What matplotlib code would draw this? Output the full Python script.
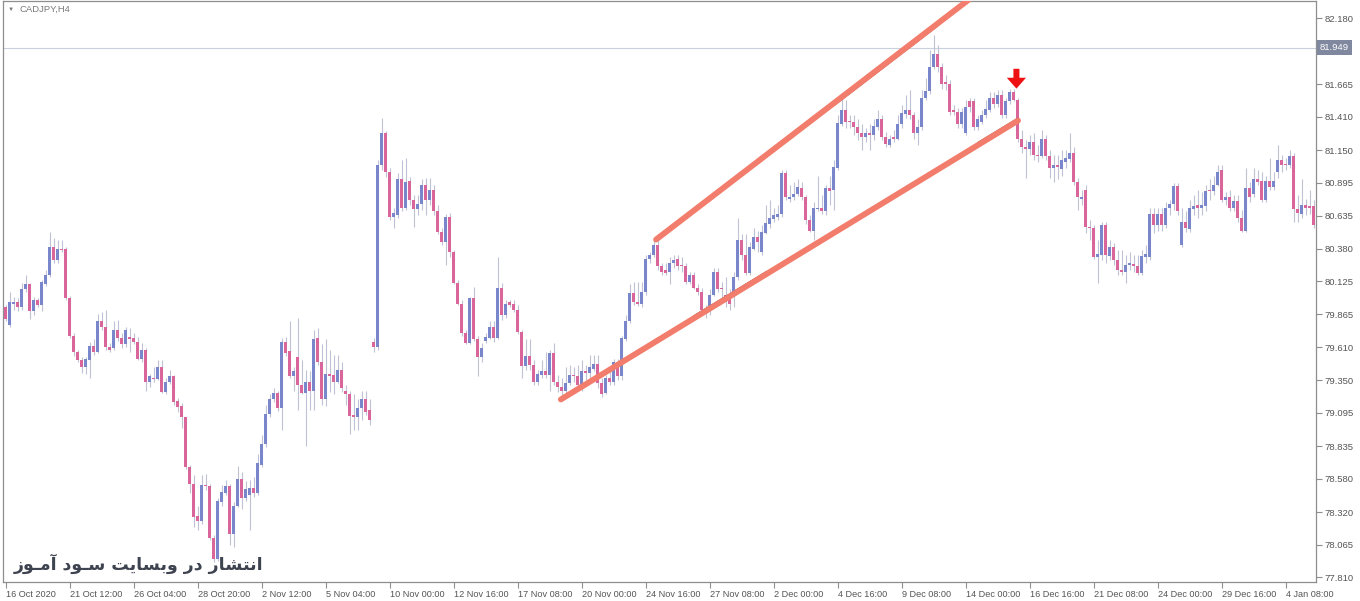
import numpy as np
import matplotlib
matplotlib.use('Agg')
import matplotlib.pyplot as plt
from matplotlib.transforms import blended_transform_factory

# CADJPY H4 candles (one entry per bar, left to right)
opens = [
    79.92, 79.78, 79.95, 79.96, 79.92, 80.06, 80.10, 79.89, 79.98, 79.94,
    80.10, 80.17, 80.39, 80.29, 80.38, 80.38, 79.99, 79.70, 79.57, 79.51,
    79.45, 79.51, 79.62, 79.57, 79.81, 79.77, 79.61, 79.60, 79.74, 79.68,
    79.63, 79.69, 79.68, 79.65, 79.52, 79.59, 79.34, 79.37, 79.36, 79.45,
    79.26, 79.34, 79.38, 79.19, 79.15, 79.06, 78.67, 78.54, 78.29, 78.25,
    78.53, 78.52, 78.12, 77.95, 78.40, 78.47, 78.52, 78.15, 78.37, 78.58,
    78.43, 78.45, 78.51, 78.47, 78.69, 78.85, 79.09, 79.20, 79.25, 79.13,
    79.65, 79.58, 79.38, 79.53, 79.31, 79.25, 79.34, 79.27, 79.68, 79.49,
    79.20, 79.40, 79.39, 79.34, 79.43, 79.27, 79.24, 79.08, 79.06, 79.13,
    79.20, 79.12, 79.65, 79.61, 81.03, 81.28, 80.98, 80.63, 80.64, 80.92,
    80.70, 80.91, 80.76, 80.69, 80.73, 80.88, 80.76, 80.84, 80.67, 80.51,
    80.43, 80.63, 80.35, 80.11, 79.95, 79.72, 79.64, 79.99, 79.67, 79.53,
    79.66, 79.68, 79.77, 79.68, 80.07, 79.86, 79.96, 79.95, 79.90, 79.73,
    79.46, 79.54, 79.47, 79.34, 79.39, 79.42, 79.39, 79.56, 79.34, 79.30,
    79.27, 79.33, 79.39, 79.38, 79.31, 79.42, 79.41, 79.44, 79.48, 79.33,
    79.25, 79.37, 79.34, 79.49, 79.38, 79.67, 79.81, 80.03, 79.96, 79.95,
    80.04, 80.30, 80.33, 80.41, 80.24, 80.21, 80.20, 80.27, 80.30, 80.25,
    80.24, 80.12, 80.17, 80.07, 80.04, 79.87, 79.89, 80.02, 80.20, 80.07,
    80.02, 80.00, 80.00, 80.16, 80.45, 80.33, 80.19, 80.38, 80.47, 80.35,
    80.50, 80.57, 80.61, 80.63, 80.65, 80.97, 80.77, 80.78, 80.81, 80.85,
    80.78, 80.60, 80.52, 80.69, 80.70, 80.67, 80.85, 80.84, 81.01, 81.35,
    81.46, 81.38, 81.37, 81.33, 81.28, 81.25, 81.28, 81.27, 81.33, 81.39,
    81.25, 81.19, 81.25, 81.24, 81.35, 81.43, 81.46, 81.42, 81.28, 81.33,
    81.56, 81.61, 81.80, 81.90, 81.80, 81.68, 81.67, 81.46, 81.45, 81.35,
    81.28, 81.53, 81.53, 81.33, 81.37, 81.42, 81.46, 81.56, 81.51, 81.58,
    81.42, 81.53, 81.60, 81.54, 81.24, 81.17, 81.16, 81.21, 81.11, 81.10,
    81.24, 81.10, 81.01, 81.03, 81.00, 81.06, 81.08, 81.13, 80.90, 80.77,
    80.84, 80.55, 80.54, 80.31, 80.33, 80.56, 80.32, 80.39, 80.29, 80.21,
    80.20, 80.25, 80.26, 80.24, 80.19, 80.31, 80.31, 80.65, 80.56, 80.65,
    80.56, 80.70, 80.73, 80.87, 80.41, 80.59, 80.53, 80.69, 80.72, 80.70,
    80.71, 80.84, 80.83, 80.88, 80.99, 80.76, 80.78, 80.70, 80.75, 80.62,
    80.52, 80.85, 80.81, 80.92, 80.91, 80.76, 80.91, 80.86, 80.98, 81.07,
    81.04, 81.03, 81.10, 80.69, 80.65, 80.72, 80.71, 80.71,
]
highs = [
    79.94, 80.04, 80.00, 79.99, 80.11, 80.17, 80.11, 80.00, 79.99, 80.13,
    80.21, 80.51, 80.46, 80.45, 80.45, 80.39, 80.01, 79.72, 79.59, 79.53,
    79.53, 79.65, 79.67, 79.87, 79.88, 79.90, 79.64, 79.81, 79.82, 79.72,
    79.77, 79.76, 79.72, 79.69, 79.64, 79.60, 79.40, 79.45, 79.51, 79.51,
    79.37, 79.43, 79.39, 79.21, 79.17, 79.06, 78.69, 78.61, 78.37, 78.61,
    78.62, 78.54, 78.14, 78.43, 78.53, 78.57, 78.54, 78.40, 78.68, 78.63,
    78.56, 78.57, 78.59, 78.77, 78.92, 79.16, 79.24, 79.29, 79.27, 79.68,
    79.69, 79.81, 79.45, 79.84, 79.51, 79.43, 79.42, 79.74, 79.76, 79.63,
    79.67, 79.59, 79.55, 79.55, 79.49, 79.31, 79.27, 79.24, 79.20, 79.27,
    79.27, 79.20, 79.68, 81.07, 81.40, 81.30, 81.01, 80.70, 80.97, 81.07,
    81.09, 80.94, 80.80, 80.80, 80.92, 80.93, 80.93, 80.88, 80.72, 80.54,
    80.65, 80.66, 80.37, 80.13, 79.98, 79.74, 80.00, 80.08, 79.70, 79.64,
    79.72, 79.81, 79.81, 80.31, 80.11, 79.98, 79.98, 79.98, 79.94, 79.74,
    79.67, 79.67, 79.51, 79.43, 79.51, 79.57, 79.59, 79.64, 79.39, 79.37,
    79.45, 79.47, 79.45, 79.47, 79.51, 79.47, 79.55, 79.55, 79.55, 79.37,
    79.39, 79.42, 79.52, 79.52, 79.70, 79.86, 80.10, 80.12, 80.12, 80.12,
    80.33, 80.35, 80.45, 80.45, 80.27, 80.27, 80.31, 80.33, 80.33, 80.31,
    80.27, 80.20, 80.20, 80.10, 80.07, 79.94, 80.06, 80.23, 80.23, 80.12,
    80.16, 80.06, 80.20, 80.62, 80.49, 80.49, 80.43, 80.54, 80.52, 80.56,
    80.72, 80.76, 80.70, 80.72, 80.99, 80.99, 80.88, 80.90, 80.92, 80.90,
    80.80, 80.64, 80.74, 80.95, 80.80, 80.88, 80.95, 81.07, 81.42, 81.56,
    81.54, 81.42, 81.42, 81.39, 81.35, 81.32, 81.35, 81.39, 81.46, 81.42,
    81.29, 81.27, 81.31, 81.42, 81.50, 81.58, 81.62, 81.45, 81.39, 81.62,
    81.71, 81.93, 82.05, 81.97, 81.83, 81.74, 81.70, 81.50, 81.48, 81.48,
    81.54, 81.56, 81.56, 81.42, 81.46, 81.54, 81.60, 81.60, 81.62, 81.62,
    81.56, 81.63, 81.63, 81.56, 81.31, 81.23, 81.27, 81.28, 81.19, 81.31,
    81.27, 81.15, 81.11, 81.11, 81.15, 81.15, 81.28, 81.17, 80.93, 80.84,
    80.88, 80.60, 80.56, 80.45, 80.59, 80.59, 80.45, 80.42, 80.37, 80.37,
    80.33, 80.35, 80.33, 80.33, 80.37, 80.41, 80.70, 80.70, 80.70, 80.70,
    80.74, 80.76, 80.89, 80.89, 80.70, 80.67, 80.76, 80.80, 80.84, 80.82,
    80.88, 80.92, 80.95, 81.03, 81.03, 80.82, 80.84, 80.80, 80.80, 80.68,
    81.01, 80.90, 81.01, 80.99, 80.98, 80.95, 81.09, 80.98, 81.19, 81.11,
    81.09, 81.15, 81.13, 80.80, 80.92, 80.77, 80.84, 80.76,
]
lows = [
    79.81, 79.77, 79.90, 79.89, 79.90, 80.04, 79.83, 79.86, 79.92, 79.89,
    80.09, 80.16, 80.27, 80.27, 80.35, 79.98, 79.68, 79.54, 79.49, 79.41,
    79.40, 79.37, 79.55, 79.56, 79.74, 79.59, 79.57, 79.59, 79.66, 79.60,
    79.61, 79.57, 79.63, 79.51, 79.49, 79.27, 79.30, 79.34, 79.35, 79.25,
    79.24, 79.32, 79.16, 79.10, 78.98, 78.66, 78.47, 78.20, 78.18, 78.23,
    78.49, 78.10, 77.93, 77.94, 78.37, 78.45, 78.06, 78.05, 78.36, 78.34,
    78.41, 78.18, 78.44, 78.45, 78.67, 78.83, 79.06, 79.18, 79.11, 78.96,
    79.54, 79.37, 79.27, 79.12, 79.24, 78.84, 79.12, 79.12, 79.47, 79.16,
    79.15, 79.26, 79.24, 79.33, 79.26, 79.16, 78.93, 78.96, 78.96, 79.04,
    79.08, 79.00, 79.57, 79.59, 80.99, 80.94, 80.60, 80.54, 80.62, 80.67,
    80.68, 80.72, 80.55, 80.64, 80.68, 80.64, 80.72, 80.64, 80.49, 80.41,
    80.25, 80.31, 80.10, 79.94, 79.70, 79.63, 79.63, 79.66, 79.38, 79.49,
    79.64, 79.67, 79.65, 79.67, 79.82, 79.84, 79.92, 79.88, 79.71, 79.37,
    79.43, 79.43, 79.31, 79.31, 79.37, 79.37, 79.27, 79.31, 79.26, 79.21,
    79.25, 79.31, 79.34, 79.27, 79.27, 79.35, 79.37, 79.42, 79.29, 79.22,
    79.24, 79.31, 79.31, 79.35, 79.35, 79.66, 79.80, 79.94, 79.93, 79.92,
    80.02, 80.27, 80.31, 80.21, 80.17, 80.17, 80.10, 80.23, 80.21, 80.20,
    80.10, 80.10, 80.06, 80.02, 79.88, 79.84, 79.86, 80.01, 80.04, 79.98,
    79.92, 79.90, 79.92, 80.13, 80.29, 80.17, 80.17, 80.37, 80.35, 80.33,
    80.49, 80.54, 80.59, 80.60, 80.63, 80.76, 80.74, 80.76, 80.79, 80.76,
    80.57, 80.51, 80.45, 80.67, 80.65, 80.64, 80.72, 80.68, 80.99, 81.34,
    81.32, 81.32, 81.27, 81.23, 81.15, 81.21, 81.15, 81.23, 81.31, 81.23,
    81.17, 81.17, 81.21, 81.23, 81.32, 81.40, 81.39, 81.24, 81.19, 81.31,
    81.54, 81.59, 81.78, 81.76, 81.63, 81.62, 81.42, 81.42, 81.32, 81.32,
    81.27, 81.45, 81.31, 81.31, 81.35, 81.40, 81.45, 81.48, 81.49, 81.40,
    81.40, 81.51, 81.53, 81.21, 81.13, 80.93, 81.11, 81.07, 81.06, 81.09,
    81.07, 80.93, 80.90, 80.92, 80.95, 81.01, 81.06, 80.88, 80.68, 80.72,
    80.50, 80.45, 80.30, 80.11, 80.29, 80.27, 80.29, 80.25, 80.17, 80.17,
    80.11, 80.21, 80.20, 80.17, 80.17, 80.27, 80.29, 80.50, 80.52, 80.52,
    80.54, 80.64, 80.68, 80.64, 80.39, 80.51, 80.51, 80.64, 80.62, 80.64,
    80.67, 80.76, 80.80, 80.87, 80.74, 80.72, 80.67, 80.67, 80.59, 80.51,
    80.51, 80.74, 80.78, 80.88, 80.74, 80.74, 80.84, 80.84, 80.93, 80.98,
    80.99, 81.01, 80.59, 80.59, 80.62, 80.64, 80.65, 80.54,
]
closes = [
    79.83, 79.96, 79.96, 79.92, 80.06, 80.10, 79.89, 79.98, 79.94, 80.12,
    80.17, 80.39, 80.29, 80.38, 80.37, 79.99, 79.70, 79.57, 79.51, 79.45,
    79.52, 79.62, 79.57, 79.81, 79.77, 79.61, 79.59, 79.74, 79.68, 79.63,
    79.74, 79.67, 79.65, 79.52, 79.59, 79.34, 79.38, 79.36, 79.45, 79.26,
    79.34, 79.38, 79.18, 79.14, 79.06, 78.67, 78.54, 78.28, 78.25, 78.53,
    78.52, 78.12, 77.95, 78.41, 78.48, 78.52, 78.15, 78.37, 78.58, 78.43,
    78.50, 78.51, 78.47, 78.70, 78.85, 79.09, 79.20, 79.25, 79.13, 79.65,
    79.56, 79.38, 79.42, 79.31, 79.25, 79.34, 79.27, 79.67, 79.49, 79.20,
    79.40, 79.38, 79.34, 79.43, 79.29, 79.24, 79.07, 79.06, 79.13, 79.20,
    79.10, 79.04, 79.61, 81.03, 81.28, 80.98, 80.63, 80.66, 80.92, 80.70,
    80.90, 80.76, 80.69, 80.73, 80.88, 80.76, 80.84, 80.67, 80.51, 80.43,
    80.63, 80.35, 80.11, 79.95, 79.72, 79.64, 79.99, 79.67, 79.53, 79.60,
    79.69, 79.77, 79.68, 80.07, 79.86, 79.95, 79.94, 79.90, 79.73, 79.46,
    79.54, 79.47, 79.34, 79.40, 79.42, 79.39, 79.56, 79.34, 79.30, 79.27,
    79.33, 79.39, 79.38, 79.31, 79.42, 79.41, 79.45, 79.48, 79.33, 79.24,
    79.37, 79.34, 79.49, 79.38, 79.68, 79.81, 80.03, 79.96, 79.95, 80.04,
    80.30, 80.33, 80.41, 80.24, 80.20, 80.19, 80.27, 80.29, 80.24, 80.24,
    80.12, 80.17, 80.07, 80.04, 79.90, 79.90, 80.02, 80.20, 80.06, 80.06,
    79.96, 79.95, 80.16, 80.45, 80.33, 80.19, 80.39, 80.47, 80.43, 80.51,
    80.58, 80.62, 80.64, 80.65, 80.97, 80.78, 80.78, 80.81, 80.86, 80.78,
    80.60, 80.52, 80.70, 80.70, 80.67, 80.85, 80.83, 81.02, 81.36, 81.46,
    81.37, 81.37, 81.33, 81.28, 81.25, 81.28, 81.27, 81.34, 81.39, 81.25,
    81.20, 81.24, 81.24, 81.35, 81.44, 81.46, 81.42, 81.28, 81.33, 81.56,
    81.61, 81.80, 81.90, 81.80, 81.67, 81.67, 81.45, 81.45, 81.35, 81.45,
    81.49, 81.49, 81.33, 81.39, 81.42, 81.47, 81.56, 81.51, 81.58, 81.42,
    81.53, 81.60, 81.54, 81.24, 81.17, 81.16, 81.21, 81.11, 81.10, 81.24,
    81.10, 81.01, 81.03, 81.02, 81.07, 81.09, 81.13, 80.90, 80.78, 80.78,
    80.55, 80.54, 80.31, 80.34, 80.56, 80.33, 80.39, 80.29, 80.21, 80.20,
    80.25, 80.27, 80.24, 80.19, 80.32, 80.34, 80.65, 80.56, 80.65, 80.56,
    80.70, 80.73, 80.87, 80.67, 80.59, 80.54, 80.70, 80.71, 80.70, 80.72,
    80.83, 80.83, 80.88, 80.98, 80.76, 80.78, 80.70, 80.75, 80.62, 80.52,
    80.85, 80.78, 80.92, 80.90, 80.76, 80.91, 80.86, 80.91, 81.07, 81.03,
    81.03, 81.10, 80.69, 80.66, 80.72, 80.70, 80.70, 80.56,
]

# one date label every 16 bars
time_labels = [
    '16 Oct 2020', '21 Oct 12:00', '26 Oct 04:00', '28 Oct 20:00', '2 Nov 12:00',
    '5 Nov 04:00', '10 Nov 00:00', '12 Nov 16:00', '17 Nov 08:00', '20 Nov 00:00',
    '24 Nov 16:00', '27 Nov 08:00', '2 Dec 00:00', '4 Dec 16:00', '9 Dec 08:00',
    '14 Dec 00:00', '16 Dec 16:00', '21 Dec 08:00', '24 Dec 00:00', '29 Dec 16:00',
    '4 Jan 08:00',
]
price_ticks = [82.180, 81.665, 81.410, 81.150, 80.895, 80.635, 80.380, 80.125,
               79.865, 79.610, 79.350, 79.095, 78.835, 78.580, 78.320, 78.065, 77.810]
bid_price = 81.949
symbol = 'CADJPY,H4'
watermark = 'انتشار در وبسایت سـود آمـوز'

# hand-drawn channel (bar index, price)
upper_channel = ([162.6, 241.8], [80.45, 82.35])
lower_channel = ([138.8, 253.1], [79.20, 81.38])
arrow_bar = 252.7

BLUE = '#7986CB'
PINK = '#D9669A'
WICK = '#BFC2D4'
CHANNEL = '#F27D6C'
GRID_TXT = '#555555'

# minimal Persian shaping so matplotlib shows joined letters
FORMS = {
    'ا': ('\uFE8D', '\uFE8E', None, None),
    'آ': ('\uFE81', '\uFE82', None, None),
    'ب': ('\uFE8F', '\uFE90', '\uFE91', '\uFE92'),
    'ت': ('\uFE95', '\uFE96', '\uFE97', '\uFE98'),
    'د': ('\uFEA9', '\uFEAA', None, None),
    'ر': ('\uFEAD', '\uFEAE', None, None),
    'ز': ('\uFEAF', '\uFEB0', None, None),
    'س': ('\uFEB1', '\uFEB2', '\uFEB3', '\uFEB4'),
    'ش': ('\uFEB5', '\uFEB6', '\uFEB7', '\uFEB8'),
    'م': ('\uFEE1', '\uFEE2', '\uFEE3', '\uFEE4'),
    'ن': ('\uFEE5', '\uFEE6', '\uFEE7', '\uFEE8'),
    'و': ('\uFEED', '\uFEEE', None, None),
    'ی': ('\uFBFC', '\uFBFD', '\uFEF3', '\uFEF4'),
}
TATWEEL = 'ـ'


def shape_persian(text):
    out = []
    for i, ch in enumerate(text):
        if ch not in FORMS:
            out.append(ch)
            continue
        prev = text[i - 1] if i > 0 else ''
        nxt = text[i + 1] if i + 1 < len(text) else ''
        joins_prev = prev == TATWEEL or (prev in FORMS and FORMS[prev][2] is not None)
        joins_next = FORMS[ch][2] is not None and (nxt == TATWEEL or nxt in FORMS)
        iso, fin, ini, med = FORMS[ch]
        if joins_prev and joins_next:
            out.append(med)
        elif joins_prev:
            out.append(fin)
        elif joins_next:
            out.append(ini)
        else:
            out.append(iso)
    return ''.join(reversed(out))


plt.rcParams['font.family'] = ['Liberation Sans', 'DejaVu Sans']

W, H = 1360, 601
fig = plt.figure(figsize=(W / 100, H / 100), dpi=100)
fig.patch.set_facecolor('white')
ax = fig.add_axes([3 / W, 19 / H, 1313 / W, 581 / H])

o = np.array(opens)
h = np.array(highs)
l = np.array(lows)
c = np.array(closes)
n = len(c)
idx = np.arange(n)
up = c >= o
colors = np.where(up, BLUE, PINK)

ax.axhline(bid_price, color='#C9D1DE', lw=0.8, zorder=1)
ax.vlines(idx, l, h, color=WICK, lw=0.8, zorder=2)
body = np.maximum(np.abs(c - o), 0.006)
ax.bar(idx, body, bottom=np.minimum(o, c), width=0.72, color=colors, lw=0, zorder=3)

# channel lines
for xs, ys in (upper_channel, lower_channel):
    ax.plot(xs, ys, color=CHANNEL, lw=4.2, solid_capstyle='round', zorder=5)
# thin trendline edges peeking out from under the thick lines
ux, uy = upper_channel
sl = (uy[1] - uy[0]) / (ux[1] - ux[0])
seg = np.array([207.0, 233.0])
ax.plot(seg, uy[0] + sl * (seg - ux[0]) - 0.021, color='#333333', lw=0.6, zorder=4)
lx, ly = lower_channel
sl = (ly[1] - ly[0]) / (lx[1] - lx[0])
for seg in (np.array([172.0, 190.0]), np.array([243.0, 253.0])):
    ax.plot(seg, ly[0] + sl * (seg - lx[0]) + 0.021, color='#333333', lw=0.6, zorder=4)

# sell arrow
tip = highs[int(round(arrow_bar)) - 1]
ax.arrow(arrow_bar, tip + 0.155, 0, -0.155, width=1.5, head_width=4.8, head_length=0.085,
         length_includes_head=True, color='#EE1111', lw=0, zorder=6)

ax.set_xlim(-0.675, 327.6)
ax.set_ylim(77.773, 82.315)

for s in ax.spines.values():
    s.set_color('#8E8E8E')
    s.set_linewidth(0.9)

ax.yaxis.tick_right()
ax.set_yticks(price_ticks)
ax.set_yticklabels([f'{v:.3f}' for v in price_ticks])
ax.tick_params(axis='y', direction='out', length=4, width=0.8, color='#8E8E8E',
               labelsize=6.8, labelcolor=GRID_TXT, pad=2)

ax.set_xticks(np.arange(0, 16 * len(time_labels), 16))
ax.set_xticklabels(time_labels)
ax.tick_params(axis='x', direction='out', length=4, width=0.8, color='#8E8E8E',
               labelsize=6.6, labelcolor=GRID_TXT, pad=1.5)
for lab in ax.get_xticklabels():
    lab.set_ha('left')

tr = blended_transform_factory(ax.transAxes, ax.transData)
ax.text(1.003, bid_price, f'{bid_price:.3f}', transform=tr, ha='left', va='center',
        fontsize=6.8, color='white',
        bbox=dict(boxstyle='square,pad=0.3', fc='#7F889E', ec='none'), zorder=7)

fig.text(8 / W, 1 - 9 / H, '\u25BC', fontsize=4.5, color='#7A7A7A', va='center')
fig.text(20 / W, 1 - 9 / H, symbol, fontsize=6.8, color='#7A7A7A', va='center')

fig.text(263 / W, 1 - 564 / H, shape_persian(watermark), fontsize=12.5, fontweight='bold',
         family=['DejaVu Sans'], color='#3E4350', ha='right', va='center')

fig.savefig('out.png', dpi=100)
